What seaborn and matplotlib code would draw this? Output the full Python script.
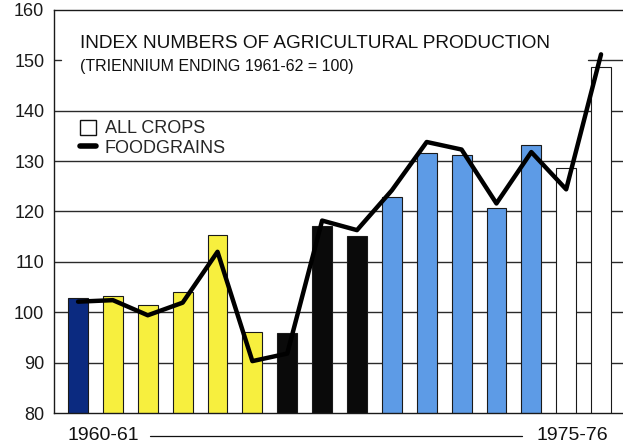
import numpy as np
import matplotlib
matplotlib.use("Agg")
import matplotlib.pyplot as plt
import seaborn as sns
from matplotlib.patches import Patch
from matplotlib.lines import Line2D

# --- data ---
years = ["1960-61", "1961-62", "1962-63", "1963-64", "1964-65", "1965-66",
         "1966-67", "1967-68", "1968-69", "1969-70", "1970-71", "1971-72",
         "1972-73", "1973-74", "1974-75", "1975-76"]
all_crops = [102.8, 103.3, 101.4, 104.1, 115.3, 96.1, 95.8, 117.2,
             115.2, 122.8, 131.7, 131.3, 120.6, 133.2, 128.7, 148.6]
foodgrains = [102.1, 102.4, 99.4, 101.9, 112.0, 90.3, 91.8, 118.2,
              116.3, 124.2, 133.8, 132.3, 121.6, 131.8, 124.4, 151.2]
periods = ["base"] + ["third"] * 5 + ["annual"] * 3 + ["fourth"] * 5 + ["fifth"] * 2
period_colors = {"base": "#0b2a80", "third": "#f7ef3e", "annual": "#0a0a0a",
                 "fourth": "#5d9be6", "fifth": "#ffffff"}
y_ticks = [80, 90, 100, 110, 120, 130, 140, 150, 160]

sns.set_theme(style="white")
plt.rcParams["font.family"] = ["Liberation Sans", "DejaVu Sans"]

fig = plt.figure(figsize=(6.23, 4.48), dpi=100)
ax = fig.add_axes([54 / 623, 35 / 448, 569 / 623, 403 / 448])

grid_c = "#2a2a2a"
for v in y_ticks[1:-2]:
    ax.axhline(v, color=grid_c, lw=1.0, zorder=0)
# the 150 line is hidden behind the title, only a stub and the right end show
ax.axhline(150, xmin=0, xmax=0.013, color=grid_c, lw=1.0, zorder=0)
ax.axhline(150, xmin=0.938, xmax=1, color=grid_c, lw=1.0, zorder=0)

x = np.arange(len(years))
sns.barplot(x=x, y=all_crops, hue=periods, palette=period_colors,
            saturation=1, width=0.57, edgecolor="#1a1a1a", linewidth=0.8,
            legend=False, ax=ax, zorder=2, native_scale=True)
sns.lineplot(x=x, y=foodgrains, color="black", lw=3.2, ax=ax, zorder=3)

ax.set_xlim(-0.69, 15.63)
ax.set_ylim(80, 160)
ax.set_yticks(y_ticks)
ax.set_xticks([])
ax.tick_params(axis="y", length=0, pad=7, labelsize=13, labelcolor="#1a1a1a")
ax.set_xlabel("")
ax.set_ylabel("")
for s in ["left", "top", "bottom"]:
    ax.spines[s].set_color("#1a1a1a")
    ax.spines[s].set_linewidth(1.0)
ax.spines["right"].set_visible(False)

ax.text(0.046, 0.918, "INDEX NUMBERS OF AGRICULTURAL PRODUCTION",
        transform=ax.transAxes, fontsize=13.7, va="center", ha="left",
        color="#111111")
ax.text(0.046, 0.861, "(TRIENNIUM ENDING 1961-62 = 100)",
        transform=ax.transAxes, fontsize=11.5, va="center", ha="left",
        color="#111111")

handles = [Patch(facecolor="white", edgecolor="#111111", linewidth=1.0),
           Line2D([0], [0], color="black", lw=4)]
ax.legend(handles, ["ALL CROPS", "FOODGRAINS"], loc="upper left",
          bbox_to_anchor=(0.046, 0.728), frameon=False, fontsize=13,
          handlelength=0.9, handleheight=0.9, handletextpad=0.45,
          labelspacing=0.12, borderpad=0, borderaxespad=0)

# period labels under the axis
bottom = ax.get_xaxis_transform()
ax.text(-0.29, -0.057, years[0], transform=bottom, ha="left", va="center",
        fontsize=14, color="#111111")
ax.text(15.2, -0.057, years[-1], transform=bottom, ha="right", va="center",
        fontsize=14, color="#111111")
ax.plot([(150 - 54) / 569, (522 - 54) / 569], [-0.057, -0.057],
        transform=ax.transAxes, color="#111111", lw=0.9, clip_on=False)

fig.savefig("out.png", dpi=100)
